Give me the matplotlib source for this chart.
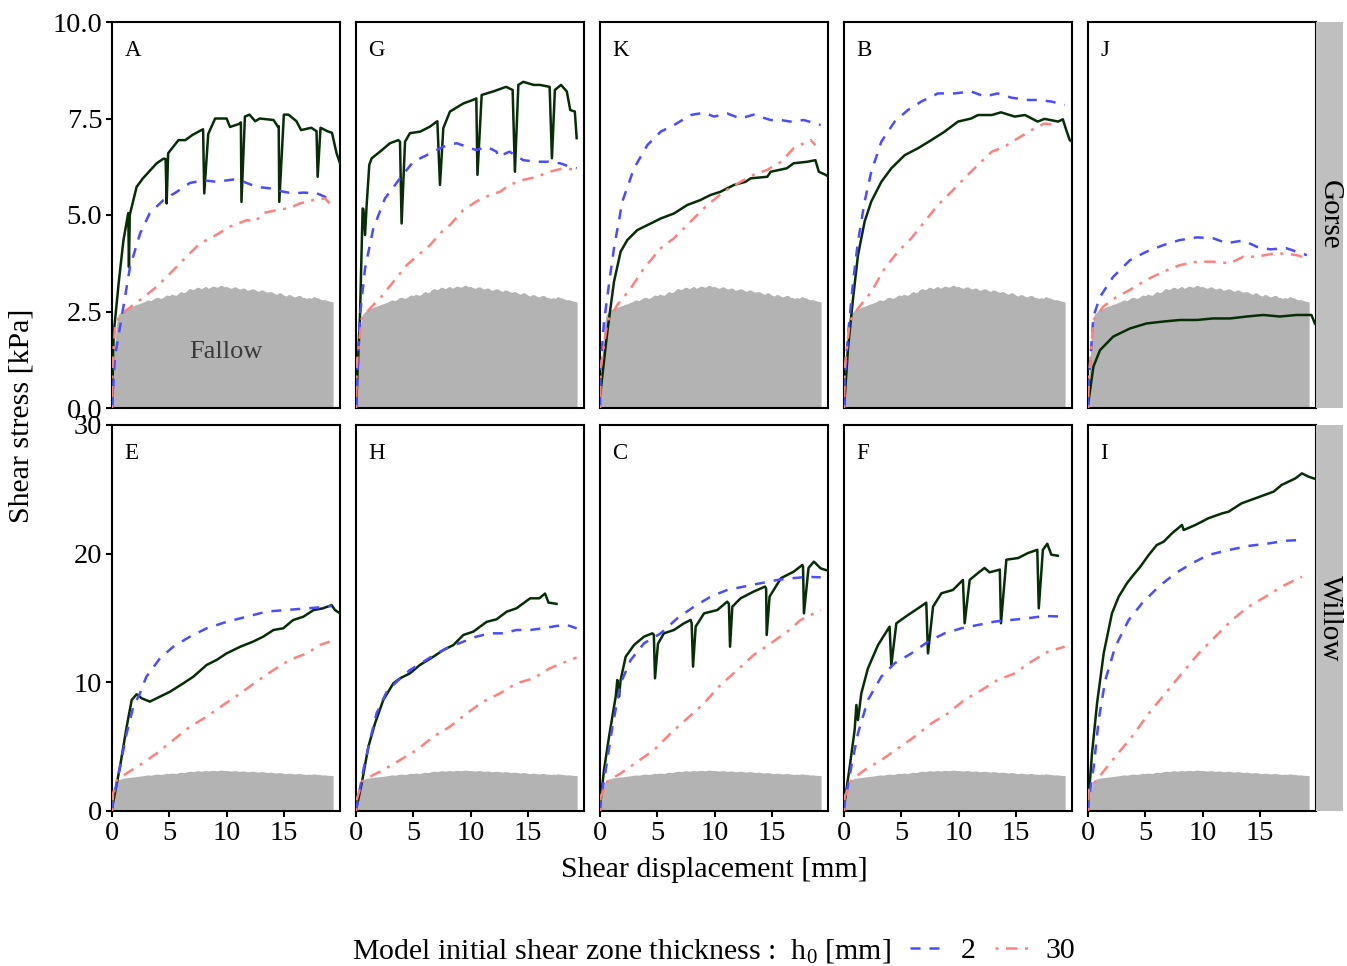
import matplotlib
matplotlib.use("Agg")
import matplotlib.pyplot as plt
from matplotlib.lines import Line2D

plt.rcParams['font.family'] = ['Liberation Serif', 'DejaVu Serif']
plt.rcParams['mathtext.fontset'] = 'custom'
plt.rcParams['mathtext.rm'] = 'Liberation Serif'
plt.rcParams['mathtext.it'] = 'Liberation Serif:italic'

# ---------------- data ----------------
top_panels = ['A', 'G', 'K', 'B', 'J']
bottom_panels = ['E', 'H', 'C', 'F', 'I']
row_labels = ['Gorse', 'Willow']
legend_labels = ['2', '30']
top_yticks = [0, 2.5, 5, 7.5, 10]
top_yticklabels = ['0.0', '2.5', '5.0', '7.5', '10.0']
bottom_yticks = [0, 10, 20, 30]
bottom_yticklabels = ['0', '10', '20', '30']
xticks = [0, 5, 10, 15]

fallow_x = [0, 0.1, 0.25, 0.4, 0.55, 0.8, 1.0, 1.3, 1.6, 2.0, 2.2, 2.4, 2.6, 2.8, 3.0, 3.2, 3.4, 3.6,
            3.8, 4.0, 4.2, 4.4, 4.6, 4.8, 5.0, 5.2, 5.4, 5.6, 5.8, 6.0, 6.2, 6.4, 6.6, 6.8, 7.0, 7.2,
            7.4, 7.6, 7.8, 8.0, 8.2, 8.4, 8.6, 8.8, 9.0, 9.2, 9.4, 9.6, 9.8, 10.0, 10.2, 10.4, 10.6,
            10.8, 11.0, 11.2, 11.4, 11.6, 11.8, 12.0, 12.2, 12.4, 12.6, 12.8, 13.0, 13.2, 13.4, 13.6,
            13.8, 14.0, 14.2, 14.4, 14.6, 14.8, 15.0, 15.2, 15.4, 15.6, 15.8, 16.0, 16.2, 16.4, 16.6,
            16.8, 17.0, 17.2, 17.4, 17.6, 17.8, 18.0, 18.2, 18.4, 18.6, 18.8, 19.0, 19.2, 19.3]
fallow_y = [0, 0.9, 1.7, 2.2, 2.42, 2.5, 2.55, 2.58, 2.62, 2.66, 2.69, 2.7, 2.73, 2.75, 2.79, 2.8,
            2.78, 2.82, 2.86, 2.87, 2.84, 2.85, 2.9, 2.93, 2.91, 2.95, 2.93, 2.92, 2.97, 3.02, 2.99,
            3.0, 3.06, 3.1, 3.07, 3.08, 3.13, 3.12, 3.09, 3.13, 3.15, 3.1, 3.13, 3.16, 3.14, 3.13,
            3.17, 3.18, 3.14, 3.15, 3.12, 3.1, 3.13, 3.14, 3.1, 3.08, 3.11, 3.1, 3.05, 3.06, 3.09,
            3.08, 3.04, 3.02, 3.06, 3.05, 3.01, 3.0, 3.02, 3.0, 2.96, 2.95, 2.99, 2.97, 2.92, 2.9,
            2.94, 2.93, 2.89, 2.88, 2.91, 2.92, 2.87, 2.86, 2.84, 2.86, 2.84, 2.89, 2.86, 2.85, 2.82,
            2.8, 2.81, 2.78, 2.77, 2.75, 2.75]

# Panel A
A_obs_x = [0, 0.15, 0.58, 1.0, 1.42, 1.48, 1.55, 2.15, 2.7, 3.9, 4.5, 4.68, 4.77, 4.9, 5.8, 6.4, 7.0,
           7.8, 7.95, 8.05, 8.4, 9.0, 10.0, 10.3, 11.2, 11.25, 11.3, 11.6, 12.0, 12.5, 12.9, 14.1,
           14.5, 14.55, 14.6, 15.0, 15.4, 16.1, 16.5, 17.4, 17.85, 17.95, 18.2, 18.8, 19.2, 19.6, 19.9]
A_obs_y = [0, 1.93, 3.23, 4.35, 5.05, 3.65, 5.0, 5.73, 5.95, 6.34, 6.46, 6.45, 5.30, 6.6, 6.94, 6.94,
           7.07, 7.2, 7.22, 5.56, 7.1, 7.5, 7.5, 7.28, 7.37, 7.4, 5.34, 7.55, 7.6, 7.43, 7.5, 7.46,
           7.28, 7.3, 5.34, 7.6, 7.6, 7.43, 7.2, 7.26, 7.17, 5.99, 7.26, 7.17, 7.13, 6.6, 6.34]
A_h2_x = [0, 0.26, 0.85, 1.57, 2.45, 3.3, 4.5, 5.65, 6.8, 8.0, 9.1, 10.6, 11.5, 12.6, 13.8, 15.0,
          15.8, 16.7, 17.9, 18.6, 19.0]
A_h2_y = [0, 1.33, 2.37, 3.65, 4.52, 5.05, 5.39, 5.6, 5.83, 5.9, 5.86, 5.92, 5.86, 5.73, 5.69, 5.6,
          5.56, 5.58, 5.56, 5.47, 5.34]
A_h30_x = [0, 0.05, 0.29, 1.28, 2.45, 3.9, 5.35, 6.5, 7.7, 8.85, 10.3, 11.8, 12.5, 13.2, 14.4, 15.5,
           16.4, 17.6, 18.6, 19.0]
A_h30_y = [0, 1.07, 2.24, 2.54, 2.8, 3.14, 3.57, 3.92, 4.27, 4.44, 4.7, 4.87, 4.83, 5.05, 5.13, 5.18,
           5.3, 5.39, 5.43, 5.3]

# Panel G
G_obs_x = [0, 0.35, 0.58, 0.65, 0.79, 0.93, 1.16, 1.37, 2.09, 2.97, 3.69, 3.84, 3.98, 4.28, 4.71,
           5.6, 6.46, 7.1, 7.33, 7.62, 8.2, 9.37, 10.2, 10.5, 10.6, 10.97, 11.97, 13.1, 13.67, 13.87,
           14.17, 14.6, 15.5, 16.06, 16.9, 17.1, 17.36, 17.9, 18.4, 18.7, 19.1, 19.26]
G_obs_y = [0, 2.41, 5.17, 5.15, 4.48, 5.26, 6.3, 6.47, 6.64, 6.86, 6.94, 6.9, 4.78, 6.9, 7.12, 7.16,
           7.29, 7.43, 5.78, 7.25, 7.68, 7.89, 7.98, 8.02, 6.04, 8.11, 8.2, 8.32, 8.24, 6.12, 8.37,
           8.45, 8.37, 8.37, 8.32, 6.47, 8.24, 8.37, 8.2, 7.72, 7.68, 6.99]
G_h2_x = [0, 0.1, 0.35, 0.79, 1.51, 2.53, 3.84, 5.0, 6.17, 7.62, 8.78, 9.66, 10.5, 11.4, 12.27, 12.4,
          13.4, 14.6, 15.8, 16.8, 17.8, 18.7, 19.26]
G_h2_y = [0, 0.68, 2.4, 3.62, 4.65, 5.43, 5.95, 6.38, 6.55, 6.77, 6.86, 6.77, 6.68, 6.77, 6.64, 6.51,
          6.64, 6.42, 6.38, 6.38, 6.34, 6.25, 6.21]
G_h30_x = [0, 0.06, 0.5, 1.22, 2.09, 3.26, 4.42, 5.58, 6.46, 7.62, 8.2, 9.37, 10.5, 11.7, 12.56, 13.4,
           14.6, 15.8, 16.9, 18.1, 19.26]
G_h30_y = [0, 1.11, 2.32, 2.58, 2.84, 3.27, 3.70, 4.0, 4.22, 4.61, 4.74, 5.13, 5.35, 5.52, 5.6, 5.78,
           5.91, 5.99, 6.12, 6.21, 6.17]

# Panel K
K_obs_x = [0, 0.64, 1.22, 1.8, 2.38, 3.26, 4.42, 5.3, 6.46, 7.62, 8.78, 9.66, 10.5, 11.7, 12.7, 13.15,
           14.6, 14.9, 16.3, 16.9, 18.1, 18.8, 19.1, 19.7, 19.9]
K_obs_y = [0.3, 1.98, 3.27, 4.05, 4.35, 4.61, 4.78, 4.91, 5.04, 5.26, 5.39, 5.52, 5.6, 5.78, 5.86, 5.95,
           5.99, 6.12, 6.21, 6.34, 6.38, 6.42, 6.12, 6.04, 6.0]
K_h2_x = [0, 0.06, 0.35, 0.93, 1.22, 1.95, 2.97, 4.13, 5.3, 6.46, 7.91, 9.08, 9.95, 11.1, 12.27, 13.4,
          14.9, 15.8, 16.6, 17.8, 19.26]
K_h2_y = [0, 1.11, 2.24, 3.53, 4.14, 5.35, 6.21, 6.81, 7.16, 7.33, 7.59, 7.65, 7.55, 7.63, 7.5, 7.6,
          7.46, 7.46, 7.42, 7.46, 7.33]
K_h30_x = [0, 0.06, 0.64, 1.51, 2.68, 3.84, 5.3, 6.46, 7.91, 9.37, 10.8, 12.27, 13.4, 14.6, 15.8, 16.9,
           17.8, 18.4, 18.8]
K_h30_y = [0, 1.03, 2.24, 2.67, 3.1, 3.62, 4.14, 4.4, 4.83, 5.26, 5.6, 5.86, 6.04, 6.17, 6.38, 6.73,
           6.86, 6.94, 6.81]

# Panel B
B_obs_x = [0, 0.35, 0.79, 1.22, 1.8, 2.38, 3.26, 4.13, 5.3, 6.46, 7.62, 8.78, 9.95, 11.1, 11.7, 12.9,
           13.7, 14.9, 15.8, 16.9, 17.5, 18.7, 19.1, 19.4, 19.7, 19.9]
B_obs_y = [0, 1.55, 2.84, 3.96, 4.83, 5.35, 5.86, 6.21, 6.55, 6.73, 6.94, 7.16, 7.42, 7.5, 7.59, 7.59,
           7.66, 7.55, 7.59, 7.42, 7.49, 7.42, 7.48, 7.2, 6.94, 6.9]
B_h2_x = [0, 0.06, 0.35, 0.79, 1.22, 1.8, 2.38, 3.26, 4.42, 5.58, 6.75, 8.2, 9.66, 11.1, 12.27, 13.4,
          14.6, 16.06, 16.9, 18.1, 19.26]
B_h2_y = [0, 0.68, 1.89, 3.27, 4.31, 5.35, 6.12, 6.9, 7.42, 7.72, 7.94, 8.15, 8.15, 8.2, 8.07, 8.15,
          8.04, 7.98, 7.98, 7.94, 7.85]
B_h30_x = [0, 0.06, 0.5, 1.22, 2.38, 3.55, 4.71, 5.88, 7.04, 8.2, 9.37, 10.5, 11.7, 12.9, 14.0, 15.2,
           16.35, 17.5, 18.67]
B_h30_y = [0, 1.03, 2.24, 2.58, 3.01, 3.62, 4.05, 4.4, 4.83, 5.26, 5.6, 5.95, 6.3, 6.64, 6.77, 6.99,
           7.2, 7.37, 7.33]

# Panel J
J_obs_x = [0, 0.47, 1.05, 2.2, 3.66, 5.1, 6.57, 8.0, 9.5, 10.9, 12.4, 13.85, 15.3, 16.75, 18.2, 19.5, 19.8]
J_obs_y = [0.08, 1.07, 1.5, 1.85, 2.06, 2.19, 2.24, 2.28, 2.28, 2.32, 2.32, 2.37, 2.41, 2.37, 2.41,
           2.41, 2.19]
J_h2_x = [0, 0.05, 0.47, 1.05, 2.2, 3.66, 5.1, 6.57, 8.0, 9.5, 10.9, 12.1, 13.55, 14.7, 15.9, 17.3,
          18.2, 19.1]
J_h2_y = [0, 0.6, 2.37, 2.88, 3.4, 3.83, 4.05, 4.22, 4.35, 4.42, 4.4, 4.27, 4.34, 4.18, 4.11, 4.14,
          4.05, 3.96]
J_h30_x = [0, 0.05, 0.47, 1.34, 2.5, 3.66, 5.1, 6.57, 8.0, 9.5, 10.9, 12.4, 13.55, 14.7, 16.2, 17.3,
           18.2, 19.1]
J_h30_y = [0, 0.64, 2.28, 2.63, 2.88, 3.06, 3.32, 3.53, 3.7, 3.79, 3.79, 3.75, 3.92, 3.92, 4.0, 4.0,
           3.96, 3.88]

# Panel E
E_obs_x = [0, 0.7, 1.28, 1.72, 2.15, 2.59, 3.3, 4.19, 5.06, 6.22, 7.1, 8.26, 9.13, 10.0, 11.2, 12.3,
           13.2, 14.1, 14.95, 15.8, 16.7, 17.6, 18.4, 19.17, 19.46, 19.9]
E_obs_y = [0.2, 3.45, 6.55, 8.63, 9.07, 8.76, 8.5, 8.89, 9.27, 9.92, 10.44, 11.35, 11.74, 12.25, 12.77,
           13.16, 13.55, 14.07, 14.2, 14.84, 15.1, 15.62, 15.75, 16.0, 15.62, 15.36]
E_h2_x = [0, 0.1, 0.7, 1.28, 1.86, 2.44, 3.0, 4.19, 5.35, 6.8, 8.26, 10.0, 11.75, 13.5, 15.2, 17.0,
          18.15, 19.17]
E_h2_y = [0, 0.85, 3.45, 6.04, 8.1, 9.14, 10.44, 11.87, 12.77, 13.55, 14.2, 14.7, 15.1, 15.5, 15.62,
          15.75, 15.83, 15.93]
E_h30_x = [0, 0.1, 0.41, 1.28, 2.44, 3.9, 5.35, 6.8, 8.26, 9.7, 11.2, 12.6, 14.1, 15.5, 17.0, 18.15, 19.0]
E_h30_y = [0, 1.37, 2.4, 2.93, 3.58, 4.48, 5.52, 6.55, 7.33, 8.24, 9.14, 10.05, 10.96, 11.74, 12.25,
           12.9, 13.16]

# Panel H
H_obs_x = [0, 0.5, 1.08, 1.66, 2.38, 3.26, 3.84, 4.71, 5.58, 6.75, 7.62, 8.5, 9.37, 10.24, 11.4, 12.27,
           13.15, 14.0, 15.2, 16.0, 16.5, 16.8, 17.5]
H_obs_y = [0.08, 2.15, 5.0, 6.81, 8.63, 9.92, 10.31, 10.7, 11.35, 11.99, 12.51, 12.9, 13.68, 13.94,
           14.7, 14.9, 15.49, 15.75, 16.53, 16.53, 16.9, 16.2, 16.1]
H_h2_x = [0, 0.06, 0.64, 1.22, 1.8, 2.68, 3.55, 4.71, 5.88, 7.04, 8.2, 9.37, 10.5, 11.7, 12.9, 14.0,
          15.2, 16.35, 17.5, 18.4, 19.26]
H_h2_y = [0, 0.34, 3.19, 5.52, 7.6, 9.27, 10.05, 10.96, 11.6, 12.25, 12.77, 13.16, 13.55, 13.81, 13.81,
          14.07, 14.07, 14.2, 14.38, 14.46, 14.2]
H_h30_x = [0, 0.06, 0.5, 1.22, 2.38, 3.84, 5.3, 6.75, 8.2, 9.66, 11.1, 12.56, 14.0, 15.5, 16.9, 18.1, 19.26]
H_h30_y = [0, 0.85, 2.28, 2.67, 3.19, 3.96, 4.74, 5.78, 6.55, 7.59, 8.5, 9.14, 9.92, 10.31, 11.09,
           11.53, 11.94]

# Panel C
C_obs_x = [0, 0.35, 0.79, 1.37, 1.51, 1.6, 1.66, 1.8, 2.24, 2.97, 3.84, 4.57, 4.7, 4.8, 5.06, 5.58,
           6.46, 7.33, 7.91, 8.0, 8.12, 8.35, 9.08, 10.24, 11.1, 11.25, 11.35, 11.55, 12.27, 13.4,
           14.4, 14.5, 14.55, 14.8, 15.8, 16.9, 17.66, 17.72, 17.8, 18.2, 18.67, 19.26, 19.7, 19.9]
C_obs_y = [0.34, 3.19, 5.78, 8.89, 10.18, 9.5, 8.89, 10.18, 11.99, 12.9, 13.55, 13.81, 13.7, 10.31,
           13.0, 13.81, 14.07, 14.59, 14.85, 14.6, 11.22, 14.33, 15.36, 15.62, 16.27, 16.1, 12.77,
           15.88, 16.53, 17.05, 17.44, 17.3, 13.68, 16.66, 18.1, 18.6, 19.12, 19.0, 15.36, 18.89,
           19.38, 18.86, 18.73, 18.7]
C_h2_x = [0, 0.06, 0.5, 1.08, 1.8, 2.68, 3.84, 5.3, 6.75, 8.2, 9.66, 11.1, 12.56, 14.0, 15.5, 16.9,
          18.1, 19.26]
C_h2_y = [0, 0.85, 3.19, 6.55, 9.92, 11.74, 13.03, 13.81, 14.98, 15.88, 16.66, 17.18, 17.44, 17.7,
          17.96, 18.1, 18.2, 18.16]
C_h30_x = [0, 0.06, 0.64, 1.8, 3.26, 4.71, 6.17, 7.62, 9.08, 10.5, 12.0, 13.4, 14.9, 16.35, 17.5, 19.26]
C_h30_y = [0, 1.11, 2.28, 2.93, 3.83, 4.74, 6.04, 7.2, 8.37, 9.79, 10.96, 12.12, 13.03, 13.94, 14.84,
           15.62]

# Panel F
F_obs_x = [0, 0.5, 0.93, 1.08, 1.22, 1.51, 2.09, 2.97, 3.98, 4.13, 4.57, 5.58, 6.46, 7.18, 7.33, 7.77,
           8.5, 9.51, 10.38, 10.53, 10.97, 11.7, 12.27, 12.7, 13.6, 13.7, 14.17, 15.2, 16.06, 16.87,
           17.0, 17.36, 17.74, 18.1, 18.67]
F_obs_y = [0.34, 3.45, 6.3, 8.24, 7.07, 9.14, 11.09, 12.9, 14.33, 11.35, 14.59, 15.23, 15.75, 16.19,
           12.25, 15.88, 16.92, 17.18, 17.96, 14.59, 17.96, 18.5, 18.89, 18.55, 18.76, 14.59, 19.53,
           19.66, 20.05, 20.3, 15.75, 20.3, 20.77, 19.92, 19.84]
F_h2_x = [0, 0.06, 0.64, 1.22, 2.09, 3.26, 4.42, 5.88, 7.33, 8.78, 10.24, 11.7, 13.15, 14.6, 16.06,
          17.5, 19.26]
F_h2_y = [0, 0.6, 3.45, 6.04, 8.63, 10.44, 11.48, 12.25, 13.16, 13.81, 14.2, 14.46, 14.72, 14.85,
          14.98, 15.16, 15.1]
F_h30_x = [0, 0.06, 0.64, 1.8, 3.26, 4.71, 6.17, 7.62, 9.08, 10.5, 12.0, 13.4, 14.9, 16.35, 17.8, 19.26]
F_h30_y = [0, 1.11, 2.41, 3.19, 3.96, 4.87, 5.78, 6.81, 7.59, 8.63, 9.4, 10.18, 10.7, 11.61, 12.38,
           12.77]

# Panel I
I_obs_x = [0, 0.35, 0.79, 1.37, 2.09, 2.68, 3.4, 3.84, 4.57, 5.3, 6.0, 6.6, 7.33, 8.2, 8.35, 9.37,
           10.5, 11.7, 12.27, 13.4, 14.6, 15.8, 16.2, 16.9, 18.1, 18.67, 19.26, 19.7, 19.9]
I_obs_y = [0.34, 4.48, 8.37, 12.25, 15.36, 16.66, 17.7, 18.21, 18.99, 19.9, 20.67, 20.93, 21.58,
           22.23, 21.84, 22.23, 22.75, 23.13, 23.26, 23.91, 24.3, 24.69, 24.82, 25.34, 25.85, 26.24,
           25.98, 25.85, 25.8]
I_h2_x = [0, 0.06, 0.5, 0.93, 1.51, 2.38, 3.55, 4.71, 6.17, 7.62, 9.08, 10.5, 12.27, 14.0, 15.8, 17.2, 18.4]
I_h2_y = [0, 0.85, 3.45, 7.07, 10.18, 12.77, 14.84, 16.14, 17.44, 18.47, 19.25, 19.9, 20.28, 20.6,
          20.8, 21.0, 21.06]
I_h30_x = [0, 0.06, 1.22, 2.38, 3.84, 5.3, 6.75, 8.2, 9.66, 11.1, 12.56, 14.0, 15.5, 16.9, 18.67]
I_h30_y = [0, 1.63, 2.93, 4.22, 5.78, 7.59, 9.14, 10.7, 12.25, 13.55, 14.84, 15.88, 16.66, 17.44, 18.21]

panel_data = {
    'A': (A_obs_x, A_obs_y, A_h2_x, A_h2_y, A_h30_x, A_h30_y),
    'G': (G_obs_x, G_obs_y, G_h2_x, G_h2_y, G_h30_x, G_h30_y),
    'K': (K_obs_x, K_obs_y, K_h2_x, K_h2_y, K_h30_x, K_h30_y),
    'B': (B_obs_x, B_obs_y, B_h2_x, B_h2_y, B_h30_x, B_h30_y),
    'J': (J_obs_x, J_obs_y, J_h2_x, J_h2_y, J_h30_x, J_h30_y),
    'E': (E_obs_x, E_obs_y, E_h2_x, E_h2_y, E_h30_x, E_h30_y),
    'H': (H_obs_x, H_obs_y, H_h2_x, H_h2_y, H_h30_x, H_h30_y),
    'C': (C_obs_x, C_obs_y, C_h2_x, C_h2_y, C_h30_x, C_h30_y),
    'F': (F_obs_x, F_obs_y, F_h2_x, F_h2_y, F_h30_x, F_h30_y),
    'I': (I_obs_x, I_obs_y, I_h2_x, I_h2_y, I_h30_x, I_h30_y),
}

# ---------------- style ----------------
W, H = 1347, 966
OBS_C = '#062d06'
H2_C = '#4b4bff'
H30_C = '#ff8080'
FILL_C = '#b3b3b3'
STRIP_C = '#bfbfbf'
LW = 1.8
DASH = (0, (4, 3.6))
DOTDASH = (0, (1.2, 3.0, 4.6, 3.0))

fig = plt.figure(figsize=(W / 100, H / 100), dpi=100)

col_left = [112, 356, 600, 844, 1088]
pw = 228
rows_px = [(22, 408), (425, 811)]


def px_axes(l, t, w, h):
    return fig.add_axes([l / W, 1 - (t + h) / H, w / W, h / H])


for r, names in enumerate([top_panels, bottom_panels]):
    top, bot = rows_px[r]
    for c, name in enumerate(names):
        ax = px_axes(col_left[c], top, pw, bot - top)
        ox, oy, x2, y2, x30, y30 = panel_data[name]
        ax.fill_between(fallow_x, 0, fallow_y, color=FILL_C, linewidth=0, zorder=1)
        ax.plot(ox, oy, color=OBS_C, lw=LW, zorder=3, solid_joinstyle='round')
        ax.plot(x2, y2, color=H2_C, lw=LW, linestyle=DASH, zorder=4)
        ax.plot(x30, y30, color=H30_C, lw=LW, linestyle=DOTDASH, zorder=4)
        ax.set_xlim(0, 19.9)
        if r == 0:
            ax.set_ylim(0, 10)
        else:
            ax.set_ylim(0, 30)
        for s in ax.spines.values():
            s.set_linewidth(1.5)
            s.set_color('black')
        ax.tick_params(direction='out', length=4, width=1.5, labelsize=20.5, pad=3, colors='black')
        if c == 0:
            if r == 0:
                ax.set_yticks(top_yticks)
                ax.set_yticklabels(top_yticklabels)
            else:
                ax.set_yticks(bottom_yticks)
                ax.set_yticklabels(bottom_yticklabels)
        else:
            ax.set_yticks([])
        if r == 1:
            ax.set_xticks(xticks)
            ax.set_xticklabels([str(v) for v in xticks])
        else:
            ax.set_xticks([])
        ax.text(0.055, 0.925, name, transform=ax.transAxes, fontsize=16.5, ha='left', va='center')
        if name == 'A':
            ax.text(9.95, 1.45, 'Fallow', fontsize=19, color='#3a3a3a', ha='center', va='center', zorder=5)
    # strip
    sax = px_axes(1316, top, 27, bot - top)
    sax.set_facecolor(STRIP_C)
    sax.set_xticks([])
    sax.set_yticks([])
    for s in sax.spines.values():
        s.set_visible(False)
    sax.text(0.5, 0.5, row_labels[r], rotation=-90, ha='center', va='center', fontsize=21,
             transform=sax.transAxes)

fig.text(714 / W, 1 - 870 / H, 'Shear displacement [mm]', ha='center', va='center', fontsize=21.5)
fig.text(22 / W, 1 - 416 / H, 'Shear stress [kPa]', ha='center', va='center', rotation=90, fontsize=21.5)

# legend
fig.text(352 / W, 1 - 951 / H, r'Model initial shear zone thickness :  h$_0$ [mm]',
         ha='left', va='center', fontsize=21.5)
handles = [Line2D([], [], color=H2_C, lw=LW, linestyle=DASH),
           Line2D([], [], color=H30_C, lw=LW, linestyle=DOTDASH)]
fig.legend(handles, legend_labels, loc='center left', bbox_to_anchor=(910 / W, 1 - 951 / H),
           ncol=2, frameon=False, fontsize=21.5, handlelength=1.1, handletextpad=0.6,
           columnspacing=0.65, borderaxespad=0, borderpad=0)

fig.savefig('out.png', dpi=100)
